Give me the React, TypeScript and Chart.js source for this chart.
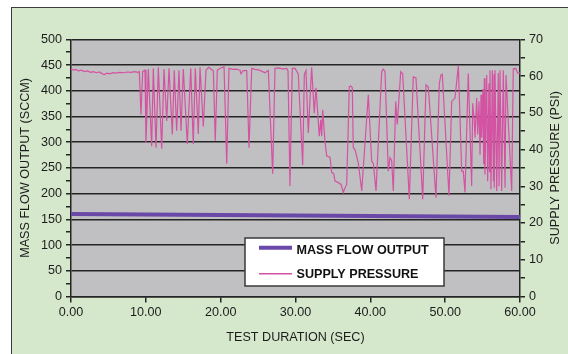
import React, { useEffect, useRef } from "react";
import { Chart, registerables } from "chart.js";

Chart.register(...registerables);

// ---- data ----
const flowTime = [0, 10, 20, 30, 40, 50, 60];
const flowSccm = [160.5, 159.5, 158.5, 157.5, 156.5, 155.5, 154.5];

const pressureTime = [
  0.0, 0.3, 0.6, 1.0, 1.4, 1.8, 2.2, 2.6, 3.0, 3.4, 3.8, 4.2, 4.5, 4.8, 5.2, 5.6, 6.0, 6.5, 7.0, 7.5, 8.0, 8.5, 8.95,
  9.13, 9.35, 9.58, 9.89, 10.02, 10.33, 10.78, 11.0, 11.36, 11.67, 12.12, 12.43, 12.79, 13.1, 13.54, 13.8, 14.12,
  14.43, 14.7, 15.01, 15.54, 16.0, 16.34, 16.61, 17.01, 17.24, 17.68, 18.04, 18.4, 19.02, 19.28, 19.55, 20.0, 20.45,
  20.81, 21.11, 21.6, 22.1, 22.58, 22.72, 23.0, 23.48, 23.79, 24.15, 24.6, 25.2, 25.9, 26.37, 26.95, 27.26, 27.8,
  28.3, 28.82, 29.0, 29.26, 29.57, 29.93, 30.37, 30.96, 31.18, 31.4, 31.71, 32.16, 32.51, 32.74, 32.97, 33.18, 33.37,
  33.5, 33.63, 33.94, 34.17, 34.61, 34.84, 35.1, 35.28, 35.72, 36.08, 36.39, 36.6, 36.84, 37.19, 37.38, 37.59, 37.72,
  37.95, 38.39, 38.85, 39.73, 40.18, 40.4, 40.76, 41.52, 41.73, 41.96, 42.4, 42.63, 42.85, 43.07, 43.39, 43.6, 44.06,
  44.32, 45.21, 45.74, 46.1, 47.0, 47.44, 47.75, 48.77, 49.22, 49.44, 49.62, 50.51, 50.87, 51.31, 51.76, 52.21, 52.42,
  52.65, 53.09, 53.54, 53.68, 53.89, 53.99, 54.21, 54.35, 54.52, 54.66, 54.79, 54.88, 55.05, 55.15, 55.23, 55.32,
  55.55, 55.68, 55.85, 55.92, 55.99, 56.12, 56.3, 56.45, 56.52, 56.56, 56.66, 56.89, 57.1, 57.2, 57.33, 57.55, 57.77,
  58.0, 58.13, 58.89, 59.1, 59.42, 59.69, 60.0,
];
const pressurePsi = [
  62.0, 61.6, 61.8, 61.4, 61.6, 61.2, 61.4, 61.0, 61.2, 60.9, 61.1, 60.6, 60.4, 60.8, 60.6, 60.9, 60.8, 61.0, 60.9, 61.1, 61.0, 61.2, 61.0,
  61.2, 49.5, 61.2, 61.6, 41.8, 61.9, 40.9, 62.1, 40.5, 62.4, 40.2, 61.9, 47.8, 62.1, 44.1, 61.6, 45.1,
  61.6, 45.1, 61.9, 41.5, 62.1, 41.5, 62.1, 44.2, 62.4, 46.3, 61.6, 62.4, 61.4, 42.4, 61.6, 62.2, 62.5,
  36.1, 62.1, 61.8, 61.9, 61.6, 60.6, 61.5, 61.5, 40.5, 62.1, 61.8, 61.6, 60.9, 61.5, 33.4, 62.1, 62.2,
  61.9, 62.1, 61.4, 30.1, 62.1, 62.1, 60.6, 35.8, 60.4, 61.5, 44.5, 62.4, 49.9, 56.8, 49.9, 43.6, 48.1,
  43.6, 50.8, 42.2, 38.2, 37.9, 33.7, 33.5, 31.4, 31.0, 30.5, 28.3, 29.5, 30.5, 57.1, 57.3, 56.8, 40.5,
  40.0, 36.4, 28.7, 54.9, 36.8, 36.2, 28.7, 61.2, 61.9, 61.2, 34.1, 37.8, 37.0, 28.7, 53.1, 46.8, 61.2,
  60.6, 26.5, 59.8, 59.5, 26.5, 57.6, 57.0, 26.9, 58.0, 60.3, 60.5, 27.4, 53.1, 54.0, 62.7, 34.1, 34.1,
  28.3, 60.7, 30.1, 52.6, 47.6, 43.2, 54.0, 44.1, 53.1, 38.6, 54.9, 43.2, 56.5, 36.0, 59.4, 33.2,
  60.3, 31.4, 58.0, 34.0, 61.6, 29.2, 61.6, 31.5, 60.5, 29.6, 61.6, 28.7, 60.8, 30.0, 61.6, 28.7, 61.6,
  29.6, 60.3, 28.7, 61.9, 62.1, 60.8, 60.8,
];

const xTickDecimals = 2;

// ---- style ----
const FONT = "'Liberation Sans', Arial, Helvetica, sans-serif";
const INK = "#1c1c1c";
const GRID = "#242424";
const FLOW_COLOR = "#6a48a8";
const PRESSURE_COLOR = "#d452a2";
const PLOT_BG = "#c0c0c2";
const PAGE_BG = "#d5e8cc";

export default function App() {
  const ref = useRef<HTMLCanvasElement>(null);

  useEffect(() => {
    const canvas = ref.current;
    if (!canvas) return;

    const plotBg = {
      id: "plotBg",
      beforeDraw(chart: any) {
        const { ctx, chartArea: a } = chart;
        ctx.save();
        ctx.fillStyle = PLOT_BG;
        ctx.fillRect(a.left, a.top, a.right - a.left, a.bottom - a.top);
        ctx.restore();
      },
    };

    const overlay = {
      id: "overlay",
      afterDraw(chart: any) {
        const { ctx, chartArea: a } = chart;
        ctx.save();
        // right axis title (reads bottom to top)
        ctx.font = `12.6px ${FONT}`;
        ctx.fillStyle = INK;
        ctx.textAlign = "center";
        ctx.textBaseline = "middle";
        ctx.translate(556, (a.top + a.bottom) / 2);
        ctx.rotate(-Math.PI / 2);
        ctx.fillText("SUPPLY PRESSURE (PSI)", 0, 0);
        ctx.restore();

        // legend box
        ctx.save();
        const lx = 245, ly = 238, lw = 199, lh = 48;
        ctx.fillStyle = "#ffffff";
        ctx.fillRect(lx, ly, lw, lh);
        ctx.strokeStyle = "#3a3a3a";
        ctx.lineWidth = 1.5;
        ctx.strokeRect(lx, ly, lw, lh);
        const rows = [
          { lineY: 247.7, textY: 251 },
          { lineY: 273.7, textY: 274.3 },
        ];
        chart.data.datasets.forEach((ds: any, i: number) => {
          const r = rows[i];
          ctx.strokeStyle = ds.borderColor;
          ctx.lineWidth = i === 0 ? 4 : 1.5;
          ctx.beginPath();
          ctx.moveTo(259, r.lineY);
          ctx.lineTo(292, r.lineY);
          ctx.stroke();
          ctx.fillStyle = "#111";
          ctx.font = `bold 12.6px ${FONT}`;
          ctx.textAlign = "left";
          ctx.textBaseline = "middle";
          ctx.fillText(ds.label, 296.5, r.textY);
        });
        ctx.restore();
      },
    };

    const tickFont = { family: FONT, size: 12.6 };

    const chart = new Chart(canvas, {
      type: "line",
      data: {
        datasets: [
          {
            label: "MASS FLOW OUTPUT",
            data: flowTime.map((t, i) => ({ x: t, y: flowSccm[i] })),
            borderColor: FLOW_COLOR,
            borderWidth: 4,
            pointRadius: 0,
            yAxisID: "y",
          },
          {
            label: "SUPPLY PRESSURE",
            data: pressureTime.map((t, i) => ({ x: t, y: pressurePsi[i] })),
            borderColor: PRESSURE_COLOR,
            borderWidth: 1.2,
            pointRadius: 0,
            tension: 0,
            yAxisID: "y1",
          },
        ],
      },
      options: {
        animation: false,
        responsive: false,
        events: [],
        layout: { padding: { top: 39.3, left: 0, right: 0, bottom: 0 } },
        plugins: { legend: { display: false }, tooltip: { enabled: false } },
        scales: {
          x: {
            type: "linear",
            min: 0,
            max: 60,
            afterFit(s: any) {
              s.height = 57.5;
            },
            ticks: {
              stepSize: 10,
              autoSkip: false,
              maxRotation: 0,
              padding: 2,
              color: INK,
              font: tickFont,
              callback: (v: any) => Number(v).toFixed(xTickDecimals),
            },
            grid: { drawOnChartArea: false, tickLength: 6, tickColor: GRID, lineWidth: 1.5 },
            border: { color: GRID, width: 1.5 },
            title: {
              display: true,
              text: "TEST DURATION (SEC)",
              color: INK,
              font: tickFont,
              padding: { top: 0, bottom: 8.9 },
            },
          },
          y: {
            position: "left",
            min: 0,
            max: 500,
            afterFit(s: any) {
              s.width = 71;
            },
            ticks: {
              stepSize: 25,
              autoSkip: false,
              padding: 4,
              color: INK,
              font: tickFont,
              callback: (v: any) => (Number(v) % 50 === 0 ? String(v) : ""),
            },
            grid: {
              color: (c: any) => (c.tick && c.tick.value % 50 === 0 ? GRID : "rgba(0,0,0,0)"),
              tickColor: GRID,
              tickLength: 5,
              lineWidth: 1.5,
            },
            border: { color: GRID, width: 1.5 },
            title: {
              display: true,
              text: "MASS FLOW OUTPUT (SCCM)",
              color: INK,
              font: tickFont,
              padding: { top: 17.7, bottom: 0 },
            },
          },
          y1: {
            position: "right",
            min: 0,
            max: 70,
            afterFit(s: any) {
              s.width = 48;
            },
            ticks: {
              stepSize: 5,
              autoSkip: false,
              padding: 4,
              color: INK,
              font: tickFont,
              callback: (v: any) => (Number(v) % 10 === 0 ? String(v) : ""),
            },
            grid: { drawOnChartArea: false, tickColor: GRID, tickLength: 5, lineWidth: 1.5 },
            border: { color: GRID, width: 1.5 },
          },
        },
      },
      plugins: [plotBg, overlay],
    } as any);

    return () => chart.destroy();
  }, []);

  return (
    <div
      style={{
        position: "fixed",
        left: 0,
        top: 0,
        width: 568,
        height: 354,
        background: "#ffffff",
        overflow: "hidden",
      }}
    >
      <div
        style={{
          position: "absolute",
          left: 10.5,
          top: 6.5,
          width: 600,
          height: 400,
          background: PAGE_BG,
          borderTop: "1.5px solid #3c3c3c",
          borderLeft: "1.5px solid #3c3c3c",
        }}
      />
      <canvas
        ref={ref}
        width={568}
        height={354}
        style={{ position: "absolute", left: 0, top: 0, width: 568, height: 354 }}
      />
    </div>
  );
}
